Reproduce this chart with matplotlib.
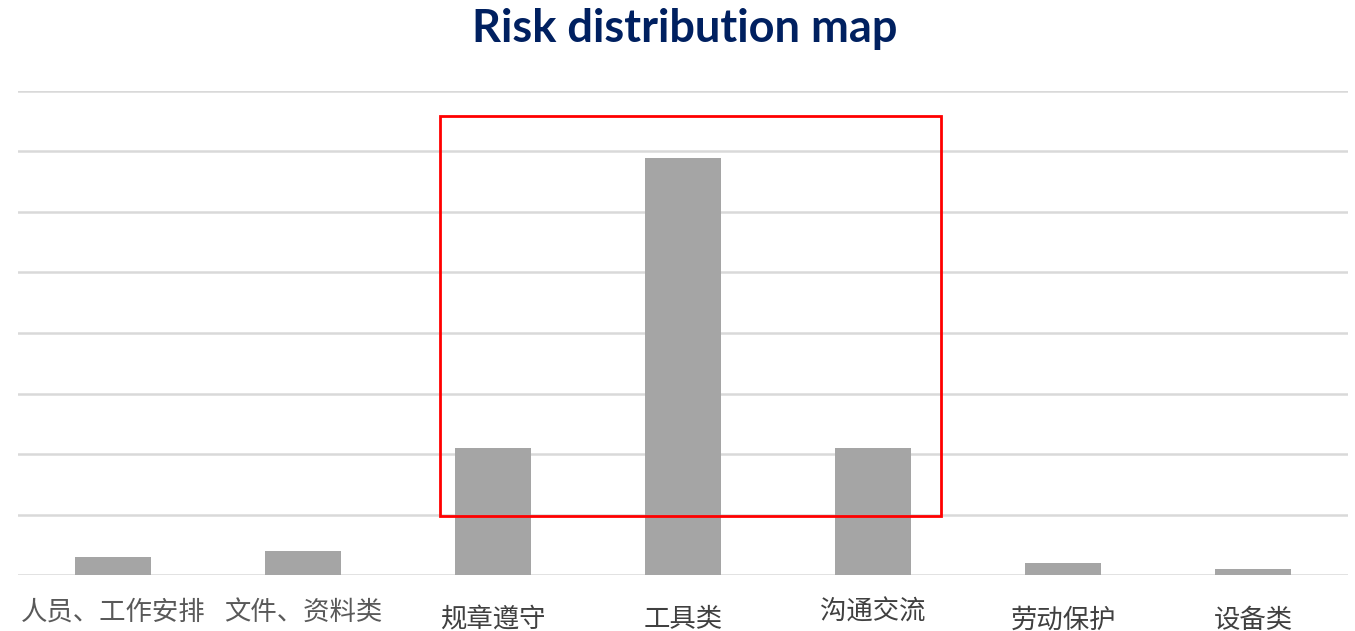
import matplotlib
matplotlib.use("Agg")
import matplotlib.pyplot as plt
from matplotlib.patches import Rectangle

categories = ["人员、工作安排", "文件、资料类", "规章遵守", "工具类", "沟通交流", "劳动保护", "设备类"]
values = [3, 4, 21, 69, 21, 2, 1]
label_light = [True, True, False, False, False, False, False]
label_raise = [True, True, False, False, True, False, False]
highlight = (2, 4)
title = "Risk distribution map"

plt.rcParams['font.family'] = ['Noto Sans CJK SC', 'DejaVu Sans']

fig = plt.figure(figsize=(13.55, 6.31), dpi=100)
ax = fig.add_axes([18/1355, 56/631, 1330/1355, 484/631])

x = list(range(len(categories)))
ax.bar(x, values, width=0.405, color="#A5A5A5", zorder=3)
ax.set_xlim(-0.5, len(categories) - 0.5)
ax.set_ylim(0, 80)
ax.set_yticks(range(0, 81, 10))
ax.yaxis.grid(True, color="#D9D9D9", linewidth=1.8, zorder=0)
ax.set_yticklabels([])
ax.tick_params(left=False, bottom=False, labelbottom=False)
for s in ax.spines.values():
    s.set_visible(False)

for i, (lab, light, raise_) in enumerate(zip(categories, label_light, label_raise)):
    off = -37 if raise_ else -45
    ax.annotate(lab, xy=(i, 0), xycoords="data", xytext=(0, off), textcoords="offset pixels",
                ha="center", va="center", fontsize=19,
                color="#595959" if light else "#404040",
                fontweight="light" if light else "normal")

a, b = highlight
ax.add_patch(Rectangle((a - 0.28, 9.75), (b - a) + 0.64, 66.15, fill=False,
                       edgecolor="#FF0000", linewidth=2, zorder=4, clip_on=False))

fig.text(685/1355, 1 - 29/631, title, ha="center", va="center", fontsize=32.5,
         fontweight="bold", color="#002060", family=["Lato", "DejaVu Sans"])

fig.savefig("out.png", dpi=100)
